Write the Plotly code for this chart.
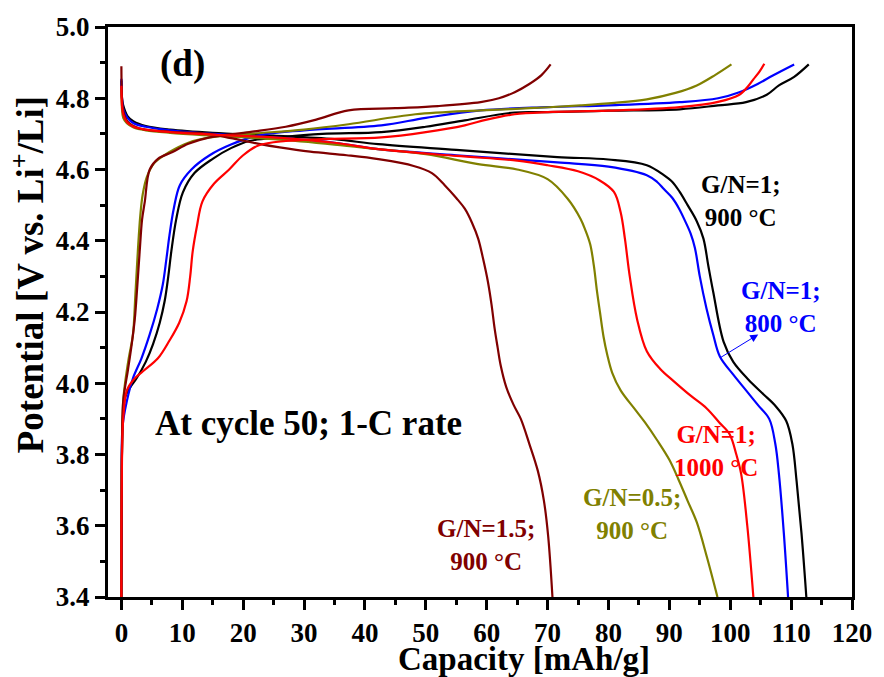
import plotly.graph_objects as go

# ---------------- data ----------------
black_chg_x = [0, 0.05, 0.2, 0.6, 1.5, 2.5, 4.0, 5.2, 6.3, 7.1, 7.7, 8.2, 9.0, 10.1, 12.0, 15, 18, 21, 26, 33, 42.7, 50, 56.4, 64.6, 70, 80, 91.7, 98, 102.6, 106, 108, 110.5, 112.9]
black_chg_y = [3.40, 3.70, 3.88, 3.96, 3.99, 4.014, 4.06, 4.11, 4.17, 4.23, 4.30, 4.37, 4.46, 4.536, 4.59, 4.63, 4.66, 4.68, 4.69, 4.70, 4.705, 4.72, 4.738, 4.76, 4.761, 4.765, 4.769, 4.78, 4.789, 4.81, 4.836, 4.86, 4.895]
black_dis_x = [0, 0.1, 0.3, 1, 2, 4, 8, 15, 25, 35, 42.2, 55, 71.6, 80, 86.3, 89.1, 90.5, 91.7, 93.0, 94.5, 95.6, 96.4, 97.2, 98.9, 100.5, 103, 105.4, 107.5, 109.2, 110.2, 110.9, 111.7, 112.5]
black_dis_y = [4.85, 4.80, 4.78, 4.75, 4.735, 4.722, 4.712, 4.703, 4.695, 4.685, 4.671, 4.655, 4.635, 4.628, 4.612, 4.584, 4.565, 4.537, 4.50, 4.455, 4.406, 4.33, 4.257, 4.117, 4.06, 4.01, 3.97, 3.935, 3.894, 3.83, 3.725, 3.58, 3.40]

blue_chg_x = [0, 0.05, 0.2, 0.9, 1.9, 3.3, 4.65, 5.9, 6.8, 7.4, 7.9, 8.6, 9.6, 11.5, 14.5, 18, 22.6, 30, 42.7, 50, 59, 70, 80, 91.7, 98, 101.5, 104.5, 107, 110.5]
blue_chg_y = [3.40, 3.70, 3.88, 3.95, 4.014, 4.07, 4.137, 4.21, 4.277, 4.35, 4.416, 4.49, 4.556, 4.60, 4.64, 4.67, 4.696, 4.71, 4.724, 4.745, 4.766, 4.775, 4.78, 4.789, 4.80, 4.817, 4.84, 4.864, 4.895]
blue_dis_x = [0, 0.1, 0.3, 1, 2, 4, 8, 15, 25, 35, 42.2, 55, 71.6, 80, 86.3, 88, 89.1, 90.5, 91.6, 92.6, 93.5, 94.2, 95.0, 96.1, 97.2, 98.3, 100.5, 102.6, 104.5, 106.4, 107.4, 108, 108.8, 109.5]
blue_dis_y = [4.855, 4.80, 4.77, 4.745, 4.73, 4.72, 4.71, 4.70, 4.69, 4.675, 4.657, 4.64, 4.62, 4.608, 4.584, 4.565, 4.545, 4.52, 4.49, 4.455, 4.42, 4.38, 4.30, 4.21, 4.137, 4.075, 4.024, 3.98, 3.94, 3.90, 3.83, 3.745, 3.58, 3.40]

red_chg_x = [0, 0.05, 0.3, 0.9, 2, 3.5, 6, 7.9, 9.5, 10.7, 11.3, 11.7, 12.4, 13.3, 15.2, 17.7, 20, 22.6, 27, 33, 42.7, 50, 56.4, 60, 64.6, 70, 80, 91.7, 98, 101.5, 103.0, 103.8, 104.8, 105.6]
red_chg_y = [3.40, 3.70, 3.90, 3.98, 4.01, 4.033, 4.07, 4.12, 4.17, 4.23, 4.30, 4.369, 4.44, 4.51, 4.56, 4.60, 4.64, 4.668, 4.68, 4.685, 4.69, 4.705, 4.724, 4.74, 4.755, 4.761, 4.765, 4.775, 4.79, 4.81, 4.835, 4.853, 4.875, 4.897]
red_dis_x = [0, 0.1, 0.3, 0.9, 2, 4, 8, 15, 25, 35, 42.2, 55, 65, 70, 75, 78.5, 80.9, 82.0, 82.7, 83.5, 84.7, 86.3, 88.5, 90.7, 93.5, 96.1, 98.2, 99.9, 101, 101.8, 102.8, 103.8]
red_dis_y = [4.835, 4.78, 4.755, 4.733, 4.72, 4.712, 4.705, 4.698, 4.69, 4.675, 4.657, 4.638, 4.625, 4.612, 4.595, 4.57, 4.537, 4.48, 4.406, 4.30, 4.18, 4.09, 4.04, 4.006, 3.965, 3.93, 3.89, 3.857, 3.80, 3.745, 3.60, 3.40]

olive_chg_x = [0, 0.05, 0.3, 0.6, 1.2, 1.9, 2.3, 2.7, 3.1, 3.5, 4.2, 5.5, 7.9, 11, 14.5, 21, 30, 37.3, 48.3, 59, 67, 75.4, 81, 86.3, 91, 94.5, 97.5, 100.2]
olive_chg_y = [3.40, 3.75, 3.95, 4.00, 4.07, 4.137, 4.25, 4.37, 4.47, 4.53, 4.58, 4.62, 4.649, 4.675, 4.69, 4.70, 4.712, 4.727, 4.755, 4.766, 4.772, 4.78, 4.787, 4.797, 4.815, 4.836, 4.865, 4.895]
olive_dis_x = [0, 0.1, 0.3, 0.9, 2, 4, 8, 15, 25, 35, 42.2, 50, 58.6, 65, 70, 73.3, 75.4, 76.2, 77.0, 77.6, 78.1, 78.6, 79.2, 79.8, 80.6, 82, 84.2, 86, 88, 90, 91.5, 93, 94.5, 96.2, 97.9]
olive_dis_y = [4.83, 4.77, 4.745, 4.73, 4.718, 4.71, 4.703, 4.695, 4.685, 4.67, 4.657, 4.643, 4.615, 4.60, 4.573, 4.518, 4.462, 4.43, 4.39, 4.33, 4.26, 4.20, 4.13, 4.08, 4.03, 3.98, 3.93, 3.89, 3.84, 3.785, 3.73, 3.67, 3.61, 3.51, 3.40]

maroon_chg_x = [0, 0.05, 0.1, 0.3, 1.1, 1.7, 2.2, 2.6, 3.0, 3.4, 3.84, 4.65, 6, 8.4, 11, 14.5, 21, 27, 32, 37.3, 45, 52, 59, 62, 64.6, 67, 69, 70.5]
maroon_chg_y = [3.40, 3.75, 3.81, 3.95, 4.04, 4.11, 4.18, 4.27, 4.369, 4.46, 4.509, 4.60, 4.63, 4.649, 4.672, 4.69, 4.705, 4.72, 4.74, 4.766, 4.772, 4.778, 4.789, 4.80, 4.817, 4.84, 4.865, 4.895]
maroon_dis_x = [0, 0.1, 0.3, 1, 3, 8, 14.5, 18, 22.6, 26, 31, 37, 42.2, 48, 51, 53.1, 55, 56.4, 57.6, 58.6, 59.4, 60.2, 60.8, 61.3, 61.8, 62.3, 63.2, 64.4, 65.6, 67.0, 68.4, 69.4, 70.1, 70.8]
maroon_dis_y = [4.89, 4.80, 4.765, 4.735, 4.715, 4.706, 4.70, 4.688, 4.672, 4.662, 4.65, 4.64, 4.629, 4.61, 4.59, 4.556, 4.52, 4.49, 4.45, 4.406, 4.35, 4.285, 4.22, 4.154, 4.10, 4.05, 3.99, 3.94, 3.90, 3.83, 3.754, 3.67, 3.57, 3.40]

x_ticks = [0, 10, 20, 30, 40, 50, 60, 70, 80, 90, 100, 110, 120]
y_ticks = [3.4, 3.6, 3.8, 4.0, 4.2, 4.4, 4.6, 4.8, 5.0]

BLACK, BLUE, RED, OLIVE, MAROON = "#000000", "#0000FF", "#FF0000", "#808000", "#800000"
FONT = "Liberation Serif"

series = [
    (black_chg_x, black_chg_y, black_dis_x, black_dis_y, BLACK),
    (blue_chg_x, blue_chg_y, blue_dis_x, blue_dis_y, BLUE),
    (olive_chg_x, olive_chg_y, olive_dis_x, olive_dis_y, OLIVE),
    (maroon_chg_x, maroon_chg_y, maroon_dis_x, maroon_dis_y, MAROON),
    (red_chg_x, red_chg_y, red_dis_x, red_dis_y, RED),
]

fig = go.Figure()
for cx, cy, dx, dy, col in series:
    for xs, ys in ((cx, cy), (dx, dy)):
        fig.add_trace(go.Scatter(x=xs, y=ys, mode="lines",
                                 line=dict(color=col, width=2.2, shape="spline", smoothing=1.0),
                                 showlegend=False, hoverinfo="skip"))

ann = []
def label(text, x, y, col, size=25):
    ann.append(dict(text="<b>" + text + "</b>", x=x, y=y, xref="x", yref="y", showarrow=False,
                    font=dict(family=FONT, size=size, color=col),
                    align="center", xanchor="center", yanchor="middle"))

label("(d)", 10.0, 4.895, BLACK, 37)
label("At cycle 50; 1-C rate", 30.8, 3.888, BLACK, 35)
label("G/N=1;<br>900 °C", 101.8, 4.512, BLACK)
label("G/N=1;<br>800 °C", 108.4, 4.213, BLUE)
label("G/N=1;<br>1000 °C", 97.7, 3.81, RED)
label("G/N=0.5;<br>900 °C", 83.9, 3.633, OLIVE)
label("G/N=1.5;<br>900 °C", 59.9, 3.547, MAROON)

# arrow pointing to the blue curve label
ann.append(dict(text="", x=104.6, y=4.137, ax=98.2, ay=4.07, xref="x", yref="y",
                axref="x", ayref="y", showarrow=True, arrowhead=2, arrowsize=1.6,
                arrowwidth=1, arrowcolor=BLUE))

# axis titles
ann.append(dict(text="<b>Capacity [mAh/g]</b>", x=(527 - 108) / 749, y=(597 - 659) / 573,
                xref="paper", yref="paper", showarrow=False, xanchor="center", yanchor="middle",
                font=dict(family=FONT, size=33, color=BLACK)))
ann.append(dict(text="<b>Potential [V vs. Li<sup>+</sup>/Li]</b>", x=(28 - 108) / 749, y=(597 - 273) / 573,
                xref="paper", yref="paper", showarrow=False, xanchor="center", yanchor="middle",
                textangle=-90, font=dict(family=FONT, size=37, color=BLACK)))

axis_common = dict(showline=True, linecolor="black", linewidth=3, mirror=True,
                   ticks="outside", ticklen=10, tickwidth=2.5, tickcolor="black",
                   showgrid=False, zeroline=False,
                   tickfont=dict(family=FONT, size=27, color="black"))

fig.update_layout(
    width=884, height=677,
    margin=dict(l=108, r=27, t=24, b=80),
    plot_bgcolor="white", paper_bgcolor="white",
    font=dict(family=FONT),
    xaxis=dict(range=[-2.2, 120], tickvals=x_ticks, ticktext=[f"<b>{v}</b>" for v in x_ticks],
               minor=dict(ticks="outside", ticklen=5, tickwidth=2.5, tickcolor="black", dtick=5, tick0=0, showgrid=False),
               **axis_common),
    yaxis=dict(range=[3.4, 5.0], tickvals=y_ticks, ticktext=[f"<b>{v:.1f}</b>" for v in y_ticks],
               minor=dict(ticks="outside", ticklen=5, tickwidth=2.5, tickcolor="black", dtick=0.1, tick0=3.4, showgrid=False),
               **axis_common),
    annotations=ann,
)

fig.write_html("out.html")
